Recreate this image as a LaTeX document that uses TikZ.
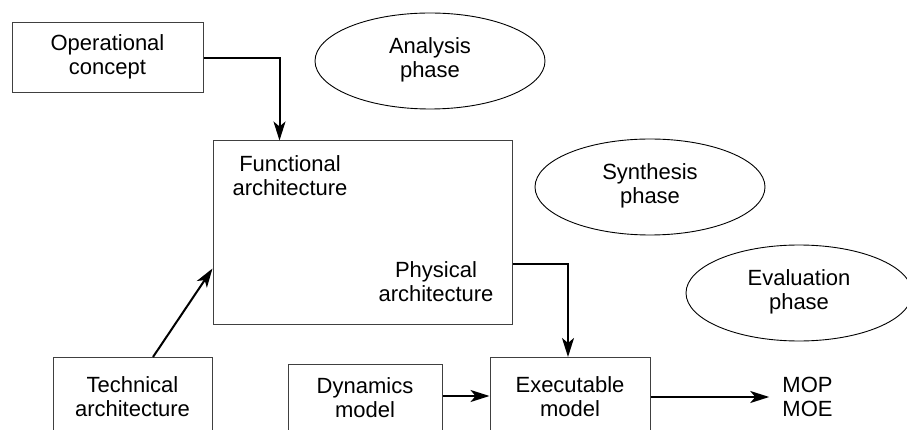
\documentclass[tikz,border=0pt]{standalone}
\usepackage{fontspec}
\setmainfont{Liberation Sans}
\usetikzlibrary{arrows.meta,calc,shapes.geometric}
\newcommand\twol[2]{\strut #1\\\strut #2}
\tikzset{
  txt/.style={font=\fontsize{22}{24}\selectfont, align=center, inner sep=0pt},
  box/.style={txt, draw=black!75, line width=1pt, rectangle},
  phase/.style={txt, draw=black, line width=0.9pt, ellipse, minimum width=230pt, minimum height=96pt},
  arr/.style={line width=2pt, -{Stealth[length=19pt,width=12pt,inset=5pt]}},
}
\begin{document}
\begin{tikzpicture}[x=1pt,y=-1pt]
\useasboundingbox (0,0) rectangle (907,430);
\fill[white] (0,0) rectangle (907,430);
\clip (0,0) rectangle (907,430);

% boxes
\node[box, minimum width=191pt, minimum height=70pt] (op) at (107.5,58) {\twol{Operational}{concept}};
\node[box, minimum width=299pt, minimum height=183pt] (big) at (362.5,232.5) {};
\node[txt] (fa) at (290,179) {\twol{Functional}{architecture}};
\node[txt] (pa) at (436,285) {\twol{Physical}{architecture}};
\node[box, anchor=north, minimum width=159pt, inner ysep=18.2pt] (tech) at (132.5,357) {\twol{Technical}{architecture}};
\node[box, anchor=north, minimum width=154pt, inner ysep=12.2pt] (dyn) at (365,364) {\twol{Dynamics}{model}};
\node[box, anchor=north, minimum width=160pt, inner ysep=18.2pt] (exe) at (570,357) {\twol{Executable}{model}};
\node[txt] (mop) at (807.5,400) {\twol{MOP}{MOE}};

% phases
\node[phase] (an) at (430,61) {\twol{Analysis}{phase}};
\node[phase] (sy) at (650,187) {\twol{Synthesis}{phase}};
\node[phase, minimum width=226pt] (ev) at (799,293) {\twol{Evaluation}{phase}};

% connectors
\draw[arr] (op.east) -| ($(big.north west)+(67,0)$);
\draw[arr] ($(tech.north)+(20.5,0)$) -- ($(big.south west)+(0,-56)$);
\draw[arr] ($(big.south east)+(0,-60)$) -| ($(exe.north)+(-2,0)$);
\draw[arr] ($(dyn.north east)+(0,32)$) coordinate (d1) -- (d1 -| exe.west);
\draw[arr, shorten >=13pt] ($(exe.north east)+(0,40)$) coordinate (e1) -- (e1 -| mop.west);
\end{tikzpicture}
\end{document}
